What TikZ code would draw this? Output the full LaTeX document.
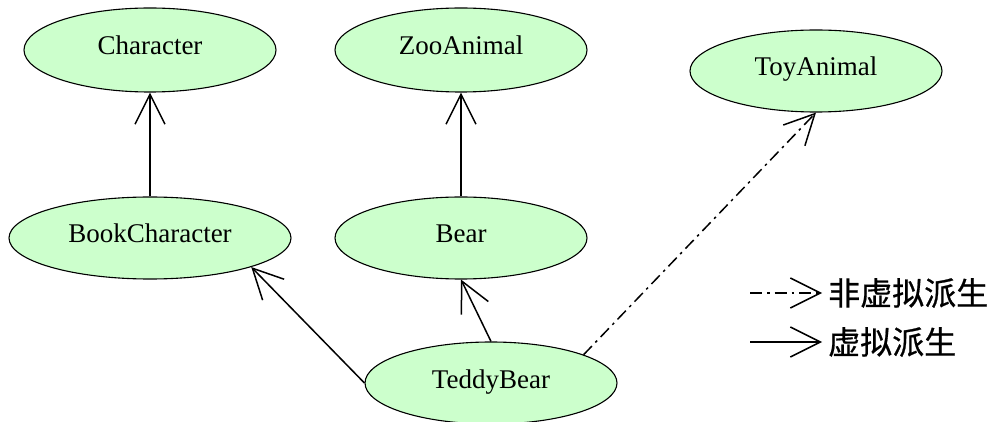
\documentclass[tikz,border=0pt]{standalone}
\usepackage{fontspec}
\setmainfont{Liberation Serif}
\newfontfamily\clsfont{Liberation Serif}
\newfontfamily\cjk[FakeBold=0.6]{Noto Sans CJK SC}
\usetikzlibrary{shapes.geometric,arrows.meta}
\definecolor{nodefill}{RGB}{204,255,204}
\begin{document}
\begin{tikzpicture}[x=1pt,y=1pt,
  cls/.style={ellipse,draw=black,line width=1.1pt,fill=nodefill,inner sep=0pt,
    minimum width=252pt,minimum height=82pt,
    font=\clsfont\fontsize{27}{30}\selectfont,text height=19pt,text depth=9pt},
  inh/.style={line width=1.5pt,-{Straight Barb[length=30pt,width=30pt,line width=1.5pt]}},
  dashdot/.style={inh,dash pattern=on 12pt off 5pt on 2.5pt off 5pt},
  legtext/.style={anchor=west,inner sep=0pt,font=\cjk\fontsize{32}{35}\selectfont}]
\useasboundingbox (0,0) rectangle (989,421);
\node[cls,minimum height=84pt] (character) at (150,371) {Character};
\node[cls,minimum height=84pt] (zoo) at (461,371) {ZooAnimal};
\node[cls] (toy) at (816,350) {ToyAnimal};
\node[cls,minimum width=282pt] (book) at (150,183) {BookCharacter};
\node[cls] (bear) at (461,183) {Bear};
\node[cls] (teddy) at (491,38) {TeddyBear};
\draw[inh] (book.north) -- (character.south);
\draw[inh] (bear.north) -- (zoo.south);
\draw[inh] (teddy.west) -- (book.-16);
\draw[inh] (teddy.north) -- (bear.south);
\draw[dashdot] (teddy.17) -- (toy.south);
\coordinate (l1a) at (750,128);
\coordinate (l1b) at (822,128);
\coordinate (l2a) at (750,79);
\coordinate (l2b) at (822,79);
\draw[dashdot] (l1a) -- (l1b);
\draw[inh] (l2a) -- (l2b);
\node[legtext] (t1) at (828,128) {非虚拟派生};
\node[legtext] (t2) at (828,79) {虚拟派生};
\end{tikzpicture}
\end{document}
